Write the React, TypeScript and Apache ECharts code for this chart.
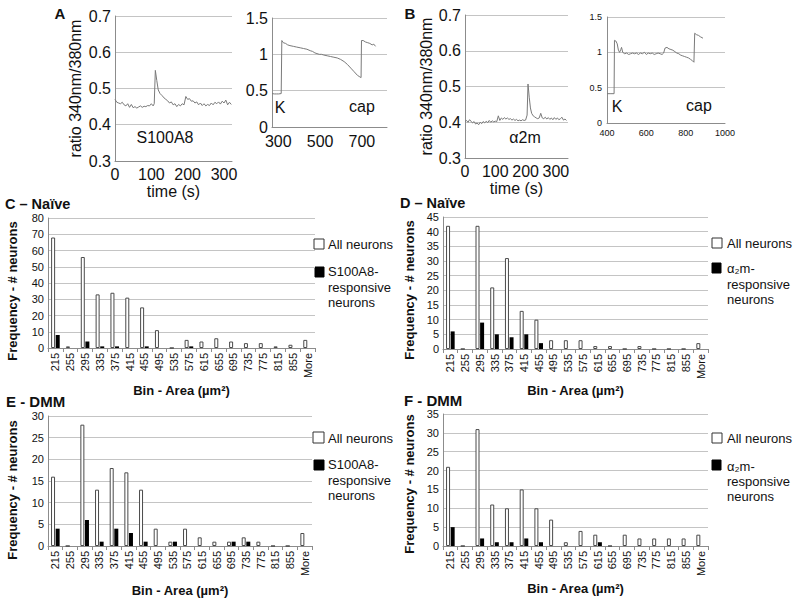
import React, { useEffect, useRef } from "react";
import * as echarts from "echarts";

// ---------------- data ----------------
const binCategories = ["215", "255", "295", "335", "375", "415", "455", "495", "535", "575", "615", "655", "695", "735", "775", "815", "855", "More"];

const naiveS100AllNeurons = [68, 1, 56, 33, 34, 31, 25, 11, 0, 5, 4, 6, 4, 3, 3, 1, 2, 5];
const naiveS100Responsive = [8, 0, 4, 1, 1, 0, 1, 0, 0, 1, 0, 0, 0, 0, 0, 0, 0, 0];
const naiveA2mAllNeurons = [42, 0, 42, 21, 31, 13, 10, 3, 3, 3, 1, 1, 0, 1, 0, 0, 0, 2];
const naiveA2mResponsive = [6, 0, 9, 5, 4, 5, 2, 0, 0, 0, 0, 0, 0, 0, 0, 0, 0, 0];
const dmmS100AllNeurons = [16, 0, 28, 13, 18, 17, 13, 4, 1, 4, 2, 1, 1, 2, 1, 0, 0, 3];
const dmmS100Responsive = [4, 0, 6, 1, 4, 3, 1, 0, 1, 0, 0, 0, 1, 1, 0, 0, 0, 0];
const dmmA2mAllNeurons = [21, 0, 31, 11, 10, 15, 10, 7, 1, 4, 3, 0, 3, 2, 2, 2, 2, 3];
const dmmA2mResponsive = [5, 0, 2, 1, 1, 2, 1, 0, 0, 0, 1, 0, 0, 0, 0, 0, 0, 0];

const kcapLeftTicks = [300, 500, 700];

// [time (s), ratio 340/380]
const s100a8Trace = [
  [0, 0.470], [5, 0.462], [10, 0.460], [15, 0.458], [20, 0.462], [25, 0.455], [30, 0.452], [35, 0.458],
  [40, 0.448], [45, 0.456], [50, 0.447], [55, 0.450], [60, 0.446], [65, 0.449], [70, 0.452], [75, 0.448],
  [80, 0.451], [85, 0.450], [90, 0.453], [95, 0.452], [100, 0.458], [105, 0.452], [108, 0.458], [111, 0.550],
  [115, 0.522], [119, 0.496], [124, 0.486], [130, 0.480], [135, 0.474], [140, 0.470], [145, 0.466], [150, 0.460],
  [155, 0.463], [160, 0.455], [165, 0.458], [170, 0.450], [175, 0.456], [180, 0.452], [185, 0.458], [190, 0.455],
  [195, 0.478], [200, 0.470], [205, 0.472], [210, 0.465], [215, 0.466], [220, 0.460], [225, 0.463], [230, 0.455],
  [235, 0.460], [240, 0.453], [245, 0.458], [250, 0.452], [255, 0.456], [260, 0.453], [265, 0.460], [270, 0.455],
  [275, 0.462], [280, 0.458], [285, 0.463], [290, 0.457], [295, 0.465], [300, 0.460], [305, 0.468], [310, 0.455],
  [315, 0.462], [320, 0.456]
];

const s100a8KcapTrace = [
  [270, 0.46], [281, 0.455], [292, 0.455], [302, 0.455], [314, 0.46], [317, 1.19], [324, 1.16], [335, 1.15],
  [345, 1.13], [356, 1.12], [372, 1.11], [388, 1.10], [405, 1.09], [421, 1.08], [437, 1.07], [453, 1.05],
  [464, 1.04], [475, 1.02], [485, 1.01], [496, 1.00], [507, 1.00], [518, 0.99], [534, 0.98], [550, 0.97],
  [566, 0.96], [582, 0.95], [598, 0.93], [615, 0.90], [631, 0.86], [647, 0.81], [663, 0.76], [679, 0.71],
  [690, 0.69], [696, 0.68], [698, 1.19], [706, 1.19], [717, 1.17], [728, 1.16], [738, 1.15], [749, 1.13],
  [757, 1.14], [765, 1.11]
];

const a2mTrace = [
  [0, 0.402], [5, 0.405], [10, 0.400], [15, 0.407], [20, 0.403], [25, 0.398], [30, 0.402], [35, 0.395],
  [40, 0.398], [45, 0.393], [50, 0.400], [55, 0.396], [60, 0.402], [65, 0.398], [70, 0.403], [75, 0.399],
  [80, 0.405], [85, 0.400], [90, 0.404], [95, 0.401], [100, 0.403], [105, 0.402], [110, 0.418], [115, 0.405],
  [120, 0.412], [125, 0.408], [130, 0.413], [135, 0.409], [140, 0.412], [145, 0.408], [150, 0.410], [155, 0.406],
  [160, 0.409], [165, 0.405], [170, 0.408], [175, 0.404], [180, 0.406], [185, 0.404], [190, 0.407], [195, 0.405],
  [200, 0.406], [205, 0.420], [208, 0.507], [212, 0.470], [216, 0.440], [220, 0.425], [225, 0.418], [230, 0.415],
  [235, 0.412], [240, 0.410], [245, 0.412], [250, 0.425], [255, 0.412], [260, 0.410], [265, 0.414], [270, 0.409],
  [275, 0.413], [280, 0.408], [285, 0.412], [290, 0.407], [295, 0.413], [300, 0.408], [305, 0.412], [310, 0.407],
  [315, 0.410], [320, 0.414], [325, 0.406], [330, 0.409], [335, 0.405]
];

const a2mKcapTrace = [
  [400, 0.415], [420, 0.415], [436, 0.415], [438, 1.17], [445, 1.16], [452, 1.12], [458, 1.03], [464, 1.00],
  [470, 1.04], [474, 1.07], [480, 1.00], [490, 0.98], [500, 0.99], [510, 0.97], [520, 0.98], [530, 0.99],
  [540, 0.98], [550, 0.99], [560, 0.97], [570, 0.99], [580, 0.98], [590, 1.00], [600, 0.97], [610, 0.99],
  [620, 0.98], [630, 0.99], [640, 0.97], [650, 0.98], [660, 0.99], [670, 0.98], [680, 0.97], [688, 0.99],
  [695, 1.06], [705, 1.07], [715, 1.05], [725, 1.04], [735, 1.03], [745, 1.01], [755, 0.99], [765, 0.98],
  [775, 0.96], [785, 0.95], [795, 0.94], [805, 0.93], [815, 0.92], [825, 0.90], [835, 0.88], [842, 0.86],
  [846, 1.27], [855, 1.25], [865, 1.24], [875, 1.22], [888, 1.20]
];

// ---------------- styles ----------------
const FONT = "'Liberation Sans', Arial, Helvetica, sans-serif";
const TXT = "#111";
const GRIDC = "#c4c4c4";
const AXISC = "#8c8c8c";
const TRACEC = "#7a7a7a";

function traceX(gridIndex: number, min: number, max: number, interval: number, fontSize: number, margin: number, showMax: boolean, name?: string, formatter?: any) {
  return {
    type: "value", gridIndex, min, max, interval,
    axisLine: { show: true, lineStyle: { color: AXISC } },
    axisTick: { show: false },
    splitLine: { show: false },
    axisLabel: {
      fontSize, color: TXT, fontFamily: FONT, margin, showMaxLabel: showMax,
      formatter: formatter || ((v: number) => String(v)),
    },
    name: name || "",
    nameLocation: "middle",
    nameGap: 22,
    nameTextStyle: { fontSize: 16, color: TXT, fontFamily: FONT, verticalAlign: "top" },
  };
}

function traceY(gridIndex: number, min: number, max: number, interval: number, fontSize: number, margin: number, name?: string, nameGap?: number) {
  return {
    type: "value", gridIndex, min, max, interval,
    axisLine: { show: true, lineStyle: { color: AXISC } },
    axisTick: { show: false },
    splitLine: { show: true, lineStyle: { color: GRIDC } },
    axisLabel: { fontSize, color: TXT, fontFamily: FONT, margin },
    name: name || "",
    nameLocation: "middle",
    nameGap: nameGap || 30,
    nameTextStyle: { fontSize: 16, color: TXT, fontFamily: FONT },
  };
}

function barX(gridIndex: number, nameGap: number) {
  return {
    type: "category", gridIndex, data: binCategories,
    axisLine: { show: true, lineStyle: { color: AXISC } },
    axisTick: { show: true, alignWithLabel: false, length: 4, lineStyle: { color: AXISC } },
    axisLabel: { rotate: 90, interval: 0, fontSize: 11, color: TXT, fontFamily: FONT, margin: 5 },
    name: "Bin - Area (µm²)",
    nameLocation: "middle",
    nameGap,
    nameTextStyle: { fontSize: 13, fontWeight: "bold", color: TXT, fontFamily: FONT },
  };
}

function barY(gridIndex: number, max: number, interval: number) {
  return {
    type: "value", gridIndex, min: 0, max, interval,
    axisLine: { show: true, lineStyle: { color: AXISC } },
    axisTick: { show: false },
    splitLine: { show: true, lineStyle: { color: GRIDC } },
    axisLabel: { fontSize: 11, color: TXT, fontFamily: FONT, margin: 4 },
  };
}

function lineSeries(idx: number, data: number[][]) {
  return {
    type: "line", xAxisIndex: idx, yAxisIndex: idx, data,
    symbol: "none", showSymbol: false, silent: true,
    lineStyle: { color: TRACEC, width: 1 },
  };
}

function barPair(idx: number, all: number[], resp: number[], respName: string) {
  return [
    {
      type: "bar", name: "All neurons", xAxisIndex: idx, yAxisIndex: idx, data: all,
      barWidth: 4, barGap: "15%", silent: true,
      itemStyle: { color: "#ffffff", borderColor: "#4a4a4a", borderWidth: 1 },
    },
    {
      type: "bar", name: respName, xAxisIndex: idx, yAxisIndex: idx, data: resp,
      barWidth: 4, barGap: "15%", silent: true,
      itemStyle: { color: "#000000" },
    },
  ];
}

function txt(text: string, x: number, y: number, size: number, opts: any = {}) {
  return {
    type: "text", x, y, silent: true,
    rotation: opts.rot || 0,
    style: {
      text, fontSize: size, fontFamily: FONT, fill: TXT,
      fontWeight: opts.bold ? "bold" : "normal",
      align: opts.align || "center",
      verticalAlign: opts.va || "middle",
      lineHeight: opts.lh,
    },
  };
}

function box(x: number, y: number, w: number, h: number, filled: boolean) {
  return {
    type: "rect", silent: true,
    shape: { x, y, width: w, height: h },
    style: filled ? { fill: "#000", stroke: "#000", lineWidth: 1 } : { fill: "#fff", stroke: "#333", lineWidth: 1 },
  };
}

export default function App() {
  const ref = useRef<HTMLDivElement>(null);
  useEffect(() => {
    const chart = echarts.init(ref.current!, null, { renderer: "svg" });
    const ROT = Math.PI / 2;
    const option: any = {
      animation: false,
      backgroundColor: "#ffffff",
      textStyle: { fontFamily: FONT },
      grid: [
        { left: 115, top: 16, width: 117, height: 145 },
        { left: 272, top: 18, width: 115, height: 109 },
        { left: 465, top: 15, width: 103, height: 143 },
        { left: 607, top: 17, width: 118, height: 106 },
        { left: 48, top: 218, width: 267, height: 130 },
        { left: 443, top: 217, width: 265, height: 132 },
        { left: 48, top: 416, width: 264, height: 130 },
        { left: 443, top: 414, width: 265, height: 132 },
      ],
      xAxis: [
        traceX(0, 0, 322, 100, 16, 5, false, "time (s)"),
        traceX(1, 270, 820, 10, 16, 6, false, "", (v: number) => (kcapLeftTicks.indexOf(v) >= 0 ? String(v) : "")),
        traceX(2, 0, 340, 100, 16, 5, false, "time (s)"),
        traceX(3, 400, 1000, 200, 9, 5, true),
        barX(4, 36),
        barX(5, 35),
        barX(6, 38),
        barX(7, 36),
      ],
      yAxis: [
        traceY(0, 0.3, 0.7, 0.1, 16, 4, "ratio 340nm/380nm", 32),
        traceY(1, 0, 1.5, 0.5, 16, 4),
        traceY(2, 0.3, 0.7, 0.1, 16, 4, "ratio 340nm/380nm", 30),
        traceY(3, 0, 1.5, 0.5, 9, 5),
        barY(4, 80, 10),
        barY(5, 45, 5),
        barY(6, 30, 5),
        barY(7, 35, 5),
      ],
      series: [
        lineSeries(0, s100a8Trace),
        lineSeries(1, s100a8KcapTrace),
        lineSeries(2, a2mTrace),
        lineSeries(3, a2mKcapTrace),
        ...barPair(4, naiveS100AllNeurons, naiveS100Responsive, "S100A8-responsive neurons"),
        ...barPair(5, naiveA2mAllNeurons, naiveA2mResponsive, "α₂m-responsive neurons"),
        ...barPair(6, dmmS100AllNeurons, dmmS100Responsive, "S100A8-responsive neurons"),
        ...barPair(7, dmmA2mAllNeurons, dmmA2mResponsive, "α₂m-responsive neurons"),
      ],
      graphic: [
        txt("A", 60, 13, 15, { bold: true }),
        txt("B", 410, 13, 15, { bold: true }),
        txt("S100A8", 165, 137, 16),
        txt("α2m", 525, 137, 16),
        txt("K", 280, 107, 16),
        txt("cap", 362, 106, 16),
        txt("K", 617, 106, 16),
        txt("cap", 699, 105, 16),
        txt("C – Naïve", 5, 204, 14.5, { bold: true, align: "left" }),
        txt("D – Naïve", 400, 203, 14.5, { bold: true, align: "left" }),
        txt("E - DMM", 6, 401, 15, { bold: true, align: "left" }),
        txt("F - DMM", 404, 400, 15, { bold: true, align: "left" }),
        // y-axis titles of the histograms
        txt("Frequency - # neurons", 12, 291, 13, { bold: true, rot: ROT }),
        txt("Frequency - # neurons", 409, 290, 13, { bold: true, rot: ROT }),
        txt("Frequency - # neurons", 12, 490, 13, { bold: true, rot: ROT }),
        txt("Frequency - # neurons", 409, 484, 13, { bold: true, rot: ROT }),
        // legend C
        box(314, 239, 10, 10, false),
        txt("All neurons", 328, 244, 13, { align: "left" }),
        box(315, 267, 9, 10, true),
        txt("S100A8-\nresponsive\nneurons", 328, 264, 13, { align: "left", va: "top", lh: 15.5 }),
        // legend D
        box(712, 238, 10, 10, false),
        txt("All neurons", 727, 243, 13, { align: "left" }),
        box(712, 263, 9, 10, true),
        txt("α₂m-\nresponsive\nneurons", 727, 261, 13, { align: "left", va: "top", lh: 15.5 }),
        // legend E
        box(313, 432, 11, 11, false),
        txt("All neurons", 328, 438, 13, { align: "left" }),
        box(314, 460, 10, 10, true),
        txt("S100A8-\nresponsive\nneurons", 328, 457, 13, { align: "left", va: "top", lh: 15.5 }),
        // legend F
        box(712, 433, 10, 10, false),
        txt("All neurons", 727, 438, 13, { align: "left" }),
        box(712, 460, 9, 10, true),
        txt("α₂m-\nresponsive\nneurons", 727, 459, 13, { align: "left", va: "top", lh: 15 }),
      ],
    };
    chart.setOption(option);
    return () => chart.dispose();
  }, []);
  return (
    <div
      ref={ref}
      style={{ position: "fixed", left: 0, top: 0, width: 800, height: 603, background: "#fff" }}
    />
  );
}
